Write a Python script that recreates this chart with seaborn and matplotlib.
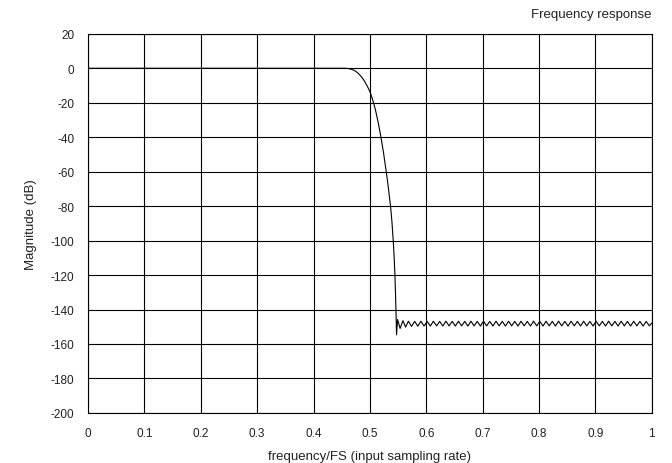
import numpy as np
import pandas as pd
import matplotlib
matplotlib.use("Agg")
import matplotlib.pyplot as plt
import seaborn as sns

# -------------------------
# Data
# -------------------------
# passband + transition band
trans_freq = [0.0, 0.40, 0.455, 0.460, 0.465, 0.470, 0.475, 0.480, 0.485, 0.490,
              0.495, 0.500, 0.5035, 0.5067, 0.510, 0.515, 0.5195, 0.524, 0.5289, 0.532,
              0.5345, 0.5367, 0.539, 0.5413, 0.543, 0.5443, 0.5453, 0.5461, 0.5472]
trans_db = [0.0, 0.0, 0.0, -0.1, -0.4, -0.9, -1.8, -3.2, -5.0, -7.3,
            -10.2, -13.6, -16.9, -20.3, -24.5, -32.0, -40.0, -48.8, -60.0, -67.5,
            -74.5, -80.5, -89.0, -100.0, -110.0, -120.0, -130.0, -140.0, -154.7]

# stopband ripple (peaks / troughs)
ripple_freq = [0.5490, 0.5535, 0.5585, 0.5632, 0.5682, 0.5738, 0.5793, 0.5849, 0.5904, 0.5960,
               0.6015, 0.6071, 0.6126, 0.6182, 0.6237, 0.6293, 0.6348, 0.6404, 0.6459, 0.6515,
               0.6570, 0.6626, 0.6681, 0.6737, 0.6792, 0.6848, 0.6903, 0.6959, 0.7014, 0.7070,
               0.7125, 0.7181, 0.7236, 0.7292, 0.7347, 0.7403, 0.7458, 0.7514, 0.7569, 0.7625,
               0.7680, 0.7736, 0.7791, 0.7847, 0.7902, 0.7958, 0.8013, 0.8069, 0.8124, 0.8180,
               0.8235, 0.8291, 0.8346, 0.8402, 0.8457, 0.8513, 0.8568, 0.8624, 0.8679, 0.8735,
               0.8790, 0.8846, 0.8901, 0.8957, 0.9012, 0.9068, 0.9123, 0.9179, 0.9234, 0.9290,
               0.9345, 0.9401, 0.9456, 0.9512, 0.9567, 0.9623, 0.9678, 0.9734, 0.9789, 0.9845,
               0.9900, 0.9956, 1.0000]
ripple_db = [-145.8, -151.0, -146.5, -150.2, -146.8, -149.8, -146.9, -149.7, -146.8, -149.6,
             -146.9, -149.6, -146.8, -149.5, -146.9, -149.6, -146.8, -149.5, -146.9, -149.6,
             -146.8, -149.5, -146.9, -149.6, -146.8, -149.5, -146.9, -149.6, -146.8, -149.5,
             -146.9, -149.6, -146.8, -149.5, -146.9, -149.6, -146.8, -149.5, -146.9, -149.6,
             -146.8, -149.5, -146.9, -149.6, -146.8, -149.5, -146.9, -149.6, -146.8, -149.5,
             -146.9, -149.6, -146.8, -149.5, -146.9, -149.6, -146.8, -149.5, -146.9, -149.6,
             -146.8, -149.5, -146.9, -149.6, -146.8, -149.5, -146.9, -149.6, -146.8, -149.5,
             -146.9, -149.6, -146.8, -149.5, -146.9, -149.6, -146.8, -149.5, -146.9, -149.6,
             -146.9, -149.5, -147.8]

x_ticks = [0, 0.1, 0.2, 0.3, 0.4, 0.5, 0.6, 0.7, 0.8, 0.9, 1]
x_labels = ["0", "0.1", "0.2", "0.3", "0.4", "0.5", "0.6", "0.7", "0.8", "0.9", "1"]
y_ticks = [20, 0, -20, -40, -60, -80, -100, -120, -140, -160, -180, -200]
y_labels = ["20", "0", "-20", "-40", "-60", "-80", "-100", "-120", "-140", "-160", "-180", "-200"]

df = pd.DataFrame({"freq": trans_freq + ripple_freq, "db": trans_db + ripple_db})

# -------------------------
# Plot
# -------------------------
sns.set_style("white")
plt.rcParams["font.family"] = ["Liberation Sans", "DejaVu Sans"]

fig = plt.figure(figsize=(6.72, 4.64), dpi=100)
ax = fig.add_axes([0.131, 0.108, 0.839, 0.817])

sns.lineplot(data=df, x="freq", y="db", color="black", linewidth=0.8,
             sort=False, estimator=None, ax=ax)

ax.set_xlim(0, 1)
ax.set_ylim(-200, 20)
ax.set_xticks(x_ticks)
ax.set_xticklabels(x_labels)
ax.set_yticks(y_ticks)
ax.set_yticklabels(y_labels)
ax.grid(True, color="black", linewidth=0.8)
ax.set_axisbelow(True)
for s in ax.spines.values():
    s.set_color("black")
    s.set_linewidth(0.8)
ax.tick_params(axis="both", direction="out", length=4, width=0.8, color="black",
               labelsize=8.5, labelcolor="#222222", pad=6)

ax.set_xlabel("frequency/FS (input sampling rate)", fontsize=9.5, color="#222222", labelpad=8)
ax.set_ylabel("Magnitude (dB)", fontsize=9.5, color="#222222", labelpad=10)
ax.set_title("Frequency response", loc="right", fontsize=9.5, color="#222222", pad=12)

fig.savefig("out.png", dpi=100)
